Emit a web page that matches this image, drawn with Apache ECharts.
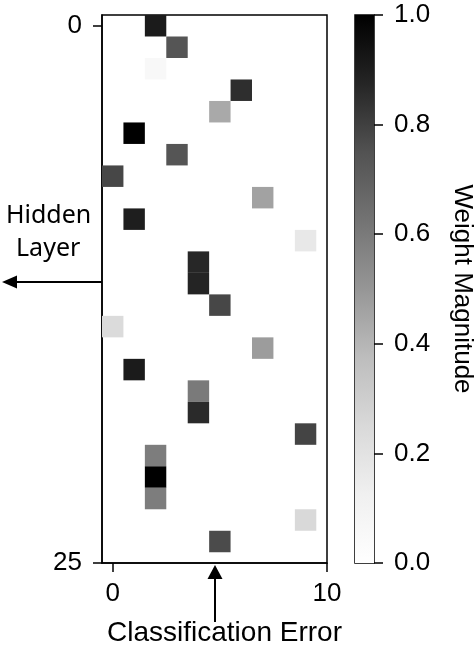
<!DOCTYPE html>
<html>
<head>
<meta charset="utf-8">
<script src="https://cdn.jsdelivr.net/npm/echarts@6/dist/echarts.min.js"></script>
<style>
  html, body { margin: 0; padding: 0; background: #fff; }
  #chart { width: 476px; height: 646px; }
</style>
</head>
<body>
<div id="chart"></div>
<script>
// weight cells: column (classification error), row (hidden unit), magnitude
const cellCol = [2, 3, 2, 6, 5, 1, 3, 0, 7, 1, 9, 4, 4, 5, 0, 7, 1, 4, 4, 9, 2, 2, 2, 9, 5]
const cellRow = [0, 1, 2, 3, 4, 5, 6, 7, 8, 9, 10, 11, 12, 13, 14, 15, 16, 17, 18, 19, 20, 21, 22, 23, 24]
const cellWeight = [0.91, 0.74, 0.06, 0.85, 0.44, 1.0, 0.74, 0.78, 0.46, 0.90, 0.17, 0.87, 0.88,
  0.78, 0.24, 0.48, 0.91, 0.60, 0.86, 0.79, 0.59, 1.0, 0.59, 0.25, 0.77]
const xTicks = [0, 10]
const yTicks = [0, 25]

// matplotlib "Greys"
const greys = ['#ffffff', '#f0f0f0', '#d9d9d9', '#bdbdbd', '#969696', '#737373', '#525252', '#252525', '#000000']
const FONT = 'Liberation Sans'

const cells = cellCol.map((c, i) => [c, cellRow[i], cellWeight[i]])

const chart = echarts.init(document.getElementById('chart'))

const axisLabelStyle = { color: '#000', fontSize: 26, fontFamily: FONT }

const option = {
  animation: false,
  backgroundColor: '#fff',
  grid: [
    { left: 102, top: 15, width: 225, height: 548, show: true, borderColor: '#000', borderWidth: 1.5, backgroundColor: '#fff' },
    { left: 355, top: 15, width: 28, height: 548, show: true, borderColor: '#000', borderWidth: 1.5, backgroundColor: 'transparent' }
  ],
  xAxis: [
    {
      gridIndex: 0, type: 'value', min: -0.5, max: 10,
      axisLine: { show: true, onZero: false, lineStyle: { color: '#000', width: 1.5 } },
      axisTick: { show: true, customValues: xTicks, length: 9, lineStyle: { color: '#000', width: 1.5 } },
      axisLabel: Object.assign({ customValues: xTicks, margin: 18 }, axisLabelStyle),
      splitLine: { show: false }
    },
    { gridIndex: 1, type: 'value', min: 0, max: 1, show: false }
  ],
  yAxis: [
    {
      gridIndex: 0, type: 'value', min: -0.5, max: 25, inverse: true,
      axisLine: { show: true, onZero: false, lineStyle: { color: '#000', width: 1.5 } },
      axisTick: { show: true, customValues: yTicks, length: 9, lineStyle: { color: '#000', width: 1.5 } },
      axisLabel: Object.assign({ customValues: yTicks, margin: 20 }, axisLabelStyle),
      splitLine: { show: false }
    },
    {
      gridIndex: 1, type: 'value', min: 0, max: 1, interval: 0.2, position: 'right',
      axisLine: { show: false, onZero: false },
      axisTick: { show: true, length: 9, lineStyle: { color: '#000', width: 1.5 } },
      axisLabel: Object.assign({ margin: 20, formatter: v => v.toFixed(1) }, axisLabelStyle),
      splitLine: { show: false },
      name: 'Weight Magnitude',
      nameLocation: 'middle',
      nameRotate: -90,
      nameGap: 75,
      nameTextStyle: { color: '#000', fontSize: 26, fontFamily: FONT }
    }
  ],
  visualMap: {
    type: 'continuous', show: false, seriesIndex: 0, dimension: 2,
    min: 0, max: 1, inRange: { color: greys }
  },
  graphic: [
    // left annotation
    { type: 'text', left: 6, top: 203, style: { text: 'Hidden', font: '25px "Noto Sans"', fill: '#000' } },
    { type: 'text', left: 16, top: 236, style: { text: 'Layer', font: '25px "Noto Sans"', fill: '#000' } },
    { type: 'line', shape: { x1: 102, y1: 282, x2: 14, y2: 282 }, style: { stroke: '#000', lineWidth: 2 } },
    { type: 'polygon', shape: { points: [[2, 282], [17, 275.5], [17, 288.5]] }, style: { fill: '#000' } },
    // bottom annotation
    { type: 'line', shape: { x1: 215, y1: 576, x2: 215, y2: 622 }, style: { stroke: '#000', lineWidth: 2 } },
    { type: 'polygon', shape: { points: [[215, 565], [207.5, 579], [222.5, 579]] }, style: { fill: '#000' } },
    { type: 'text', left: 107, top: 619, style: { text: 'Classification Error', font: '28px "Liberation Sans"', fill: '#000' } }
  ],
  series: [
    {
      type: 'custom',
      xAxisIndex: 0, yAxisIndex: 0,
      data: cells,
      renderItem: (params, api) => {
        const p = api.coord([api.value(0) - 0.5, api.value(1) - 0.5])
        const s = api.size([1, 1])
        return {
          type: 'rect',
          shape: { x: p[0], y: p[1], width: s[0], height: s[1] },
          style: { fill: api.visual('color') }
        }
      }
    },
    {
      type: 'custom',
      xAxisIndex: 1, yAxisIndex: 1,
      data: [[0, 0]],
      silent: true,
      renderItem: (params, api) => {
        const a = api.coord([0, 0])
        const b = api.coord([1, 1])
        const stops = greys.map((c, i) => ({ offset: 1 - i / (greys.length - 1), color: c })).reverse()
        return {
          type: 'rect',
          shape: { x: a[0], y: b[1], width: b[0] - a[0], height: a[1] - b[1] },
          style: { fill: new echarts.graphic.LinearGradient(0, 0, 0, 1, stops) }
        }
      }
    }
  ]
}

chart.setOption(option)
</script>
</body>
</html>
